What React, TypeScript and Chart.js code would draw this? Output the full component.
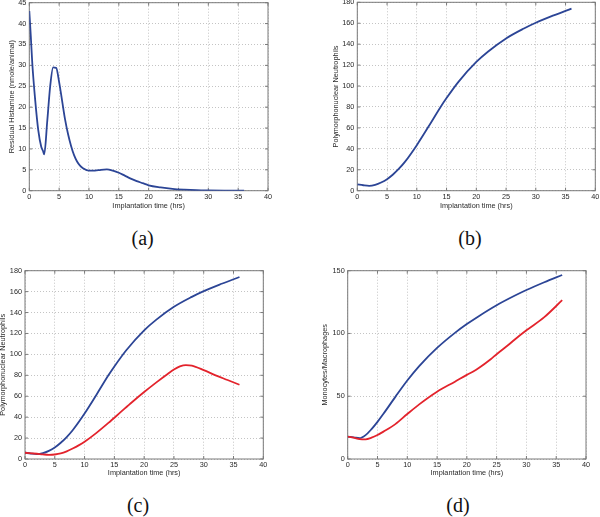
import React, { useEffect, useRef } from 'react';
import { Chart, registerables } from 'chart.js';

Chart.register(...registerables);

// ---------- data ----------
const xTickLabelsMax = 40;
const xTickStep = 5;

// (a) Residual histamine
const histTime = [0, 0.25, 0.5, 1, 1.5, 2, 2.3, 2.5, 3, 3.5, 4, 4.5, 5, 5.5, 6, 6.5, 7, 7.5, 8, 8.5, 9, 10, 11, 12, 13, 14, 15, 16, 17, 18, 19, 20, 22, 24, 26, 28, 30, 33, 36];
const histamine = [43, 37, 30.5, 21.5, 14.5, 10.5, 9.5, 8.7, 16.5, 25, 29.5, 29.4, 26, 21.5, 17, 13.5, 10.7, 8.5, 7, 6, 5.4, 4.8, 4.8, 5, 5.1, 4.8, 4.3, 3.6, 2.9, 2.3, 1.8, 1.3, 0.8, 0.45, 0.25, 0.12, 0.06, 0.02, 0];

// (b)/(c) Polymorphonuclear neutrophils, control (blue)
const pmnTime = [0, 1, 2, 3, 4, 5, 6, 7, 8, 10, 12, 14, 15, 17, 20, 22, 25, 28, 30, 33, 36];
const pmnBlue = [6, 5.2, 4.7, 5.6, 7.8, 11, 15.5, 21, 27.5, 43.5, 61.5, 80, 88.5, 104, 123, 133, 145.5, 155, 160.5, 167.5, 174];

// (c) Polymorphonuclear neutrophils, second case (red)
const pmnRedTime = [0, 2, 3, 4, 5, 6, 7, 8, 9, 10, 12, 14, 16, 18, 20, 22, 24, 25, 26, 27, 28, 30, 32, 34, 36];
const pmnRed = [6, 5, 4.4, 4, 4.3, 5.3, 7.3, 10, 13, 16.5, 25, 34.5, 44.5, 54.5, 64, 73, 81.5, 85.5, 88.5, 89.8, 89.3, 85, 80, 75.5, 71];

// (d) Monocytes / macrophages
const monoTime = [0, 1, 2, 3, 4, 5, 6, 8, 10, 12, 15, 18, 20, 22, 25, 28, 30, 33, 36];
const monoBlue = [17.8, 17.3, 16.6, 19, 23.8, 29.6, 36, 49.5, 62.5, 74, 88.5, 100.5, 107.5, 113.8, 122.5, 130, 134.6, 140.8, 146.6];
const monoRedTime = [0, 1, 2, 3, 4, 5, 6, 8, 10, 12, 15, 18, 20, 21, 22, 24, 25, 27, 28, 30, 33, 36];
const monoRed = [17.8, 17, 15.9, 15.7, 17, 19.1, 21.8, 27.8, 35.8, 43.5, 53.6, 61.6, 67, 69.5, 72.5, 79.5, 83.5, 91, 95, 102.5, 113, 126.5];

const xTitle = 'Implantation time (hrs)';
const captions = ['(a)', '(b)', '(c)', '(d)'];

// ---------- style ----------
const BLUE = '#2c4596';
const RED = '#e3232c';
const TEXT = '#2a2a2a';
const BOX = '#7a7a7a';
const GRID = '#c4c4c4';
const tickFont = { family: "'Liberation Sans', Arial, sans-serif", size: 7.3, lineHeight: 1 };

const boxPlugin = {
  id: 'matlabBox',
  beforeDatasetsDraw(chart: any) {
    const { ctx, chartArea: a, scales } = chart;
    ctx.save();
    ctx.strokeStyle = BOX;
    ctx.lineWidth = 1;
    ctx.strokeRect(a.left, a.top, a.right - a.left, a.bottom - a.top);
    const tl = 3;
    ctx.beginPath();
    scales.x.ticks.forEach((t: any) => {
      const px = scales.x.getPixelForValue(t.value);
      ctx.moveTo(px, a.bottom); ctx.lineTo(px, a.bottom - tl);
      ctx.moveTo(px, a.top); ctx.lineTo(px, a.top + tl);
    });
    scales.y.ticks.forEach((t: any) => {
      const py = scales.y.getPixelForValue(t.value);
      ctx.moveTo(a.left, py); ctx.lineTo(a.left + tl, py);
      ctx.moveTo(a.right, py); ctx.lineTo(a.right - tl, py);
    });
    ctx.stroke();
    ctx.restore();
  },
};

type Series = { xs: number[]; ys: number[]; color: string };
type PanelProps = {
  L: number; T: number; R: number; B: number; W: number; H: number;
  yMax: number; yStep: number; yTitle: string; series: Series[];
};

function Panel(p: PanelProps) {
  const ref = useRef<HTMLCanvasElement>(null);
  const cl = Math.floor(p.L - 45);
  const ct = Math.floor(p.T - 15);
  const cw = Math.ceil(p.R + 20) - cl;
  const ch = Math.ceil(p.B + p.H + 6) - ct;

  useEffect(() => {
    const chart = new Chart(ref.current as HTMLCanvasElement, {
      type: 'line',
      data: {
        datasets: p.series.map((s) => ({
          data: s.xs.map((x, i) => ({ x, y: s.ys[i] })),
          borderColor: s.color,
          borderWidth: 1.8,
          pointRadius: 0,
          cubicInterpolationMode: 'monotone',
          fill: false,
        })),
      } as any,
      options: {
        animation: false,
        responsive: false,
        events: [],
        layout: {
          padding: {
            left: p.L - cl - p.W,
            top: p.T - ct,
            right: cl + cw - p.R,
            bottom: ct + ch - p.B - p.H,
          },
        },
        plugins: { legend: { display: false }, tooltip: { enabled: false } },
        scales: {
          x: {
            type: 'linear',
            min: 0,
            max: xTickLabelsMax,
            ticks: { stepSize: xTickStep, autoSkip: false, maxRotation: 0, padding: 2.35, font: tickFont, color: TEXT },
            grid: { color: GRID, lineWidth: 1, drawTicks: false },
            border: { display: false, dash: [1, 2] },
            title: { display: true, text: xTitle, font: tickFont, color: TEXT, padding: 0 },
            afterFit: (s: any) => { s.height = p.H; },
          },
          y: {
            type: 'linear',
            min: 0,
            max: p.yMax,
            ticks: { stepSize: p.yStep, autoSkip: false, padding: 3, font: tickFont, color: TEXT },
            grid: { color: GRID, lineWidth: 1, drawTicks: false },
            border: { display: false, dash: [1, 2] },
            title: { display: true, text: p.yTitle, font: tickFont, color: TEXT, padding: 0 },
            afterFit: (s: any) => { s.width = p.W; },
          },
        },
      } as any,
      plugins: [boxPlugin],
    });
    return () => chart.destroy();
  }, []);

  return (
    <canvas
      ref={ref}
      width={cw}
      height={ch}
      style={{ position: 'absolute', left: cl, top: ct, width: cw, height: ch }}
    />
  );
}

function Caption({ text, cx, cy }: { text: string; cx: number; cy: number }) {
  return (
    <div
      style={{
        position: 'absolute',
        left: cx - 30,
        top: cy - 11.75,
        width: 60,
        height: 20,
        lineHeight: '20px',
        fontSize: 20,
        fontFamily: "'Liberation Serif', 'Times New Roman', serif",
        color: '#111',
        textAlign: 'center',
      }}
    >
      {text}
    </div>
  );
}

export default function App() {
  return (
    <div style={{ position: 'absolute', left: 0, top: 0, width: 600, height: 517, overflow: 'hidden', background: '#fff' }}>
      <Panel L={29.3} T={2.7} R={268} B={190.7} W={21.25} H={18.65} yMax={45} yStep={5}
        yTitle="Residual Histamine (nmole/animal)"
        series={[{ xs: histTime, ys: histamine, color: BLUE }]} />
      <Panel L={357.3} T={2.3} R={595.3} B={190.7} W={24.95} H={18.65} yMax={180} yStep={20}
        yTitle="Polymorphonuclear Neutrophils"
        series={[{ xs: pmnTime, ys: pmnBlue, color: BLUE }]} />
      <Panel L={25} T={270.7} R={263.3} B={459} W={25.95} H={18.1} yMax={180} yStep={20}
        yTitle="Polymorphonuclear Neutrophils"
        series={[{ xs: pmnRedTime, ys: pmnRed, color: RED }, { xs: pmnTime, ys: pmnBlue, color: BLUE }]} />
      <Panel L={347.7} T={270.7} R={586} B={459} W={26.35} H={17.6} yMax={150} yStep={50}
        yTitle="Monocytes/Macrophages"
        series={[{ xs: monoRedTime, ys: monoRed, color: RED }, { xs: monoTime, ys: monoBlue, color: BLUE }]} />
      <Caption text={captions[0]} cx={142.7} cy={240} />
      <Caption text={captions[1]} cx={470} cy={240} />
      <Caption text={captions[2]} cx={138} cy={506.5} />
      <Caption text={captions[3]} cx={458} cy={506.5} />
    </div>
  );
}
